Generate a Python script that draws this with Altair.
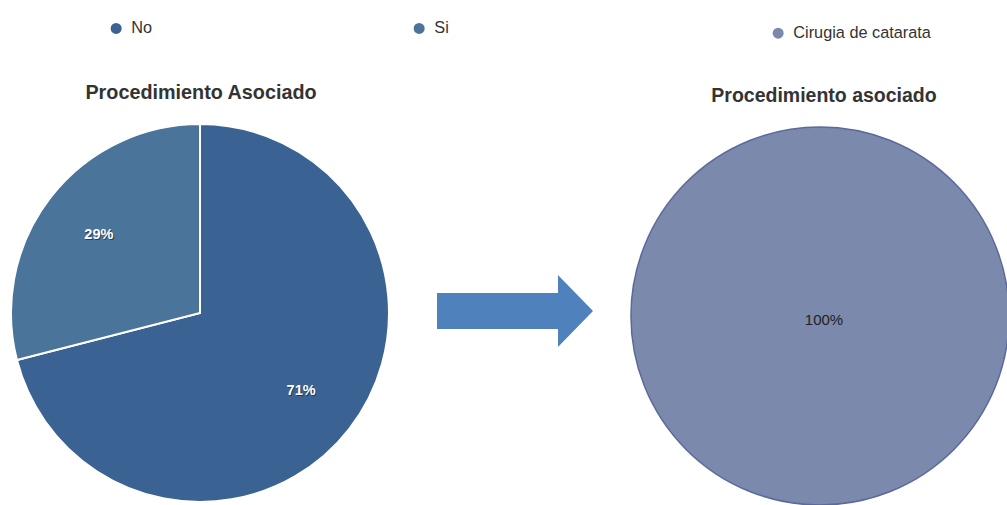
import altair as alt
import pandas as pd

# Left pie: Procedimiento Asociado
left_categories = ["No", "Si"]
left_values = [71, 29]
left_labels = ["71%", "29%"]
left_order = [1, 2]
left_colors = ["#3a6394", "#4a7499"]

# Right pie: Procedimiento asociado
right_categories = ["Cirugia de catarata"]
right_values = [100]
right_labels = ["100%"]
right_colors = ["#7b89ac"]

FONT = "Liberation Sans"

left_df = pd.DataFrame({"category": left_categories, "value": left_values,
                        "label": left_labels, "order": left_order})
right_df = pd.DataFrame({"category": right_categories, "value": right_values,
                         "label": right_labels, "order": [1]})

LCX, LCY, R = 200, 313, 189
RCX, RCY = 820, 316

left_base = alt.Chart(left_df).encode(
    theta=alt.Theta("value:Q", stack=True),
    order=alt.Order("order:Q"),
)
left_arc = left_base.mark_arc(radius=R, stroke="white", strokeWidth=2).encode(
    color=alt.Color(
        "category:N",
        scale=alt.Scale(domain=left_categories, range=left_colors),
        legend=alt.Legend(
            title=None, orient="none", direction="horizontal",
            legendX=108, legendY=20, symbolType="circle", symbolSize=121,
            symbolStrokeWidth=0, symbolOpacity=1, labelFont=FONT,
            labelFontSize=16.3, labelColor="#333333", labelOffset=7,
            columnPadding=258,
        ),
    ),
    x=alt.value(LCX), y=alt.value(LCY),
)
left_shadow = left_base.mark_text(
    radius=128, font=FONT, fontSize=14.5, fontWeight="bold",
    color="#000000", opacity=0.45, dx=1, dy=1,
).encode(text="label:N", detail="category:N", x=alt.value(LCX), y=alt.value(LCY))
left_text = left_base.mark_text(
    radius=128, font=FONT, fontSize=14.5, fontWeight="bold", color="white",
).encode(text="label:N", detail="category:N", x=alt.value(LCX), y=alt.value(LCY))

right_base = alt.Chart(right_df).encode(
    theta=alt.Theta("value:Q", stack=True),
    order=alt.Order("order:Q"),
)
right_arc = right_base.mark_arc(radius=R, stroke="#5b6a9a", strokeWidth=1.5).encode(
    color=alt.Color(
        "category:N",
        scale=alt.Scale(domain=right_categories, range=right_colors),
        legend=alt.Legend(
            title=None, orient="none", direction="horizontal",
            legendX=770, legendY=25, symbolType="circle", symbolSize=121,
            symbolStrokeWidth=0, symbolOpacity=1, labelFont=FONT,
            labelFontSize=16.3, labelColor="#333333", labelOffset=7,
        ),
    ),
    x=alt.value(RCX), y=alt.value(RCY),
)
right_text = alt.Chart(right_df).mark_text(
    font=FONT, fontSize=15, color="#222222",
).encode(text="label:N", x=alt.value(824), y=alt.value(320))

title_left = alt.Chart(pd.DataFrame({"t": ["Procedimiento Asociado"]})).mark_text(
    font=FONT, fontSize=19.8, fontWeight="bold", color="#333333",
).encode(text="t:N", x=alt.value(201), y=alt.value(93))
title_right = alt.Chart(pd.DataFrame({"t": ["Procedimiento asociado"]})).mark_text(
    font=FONT, fontSize=19.5, fontWeight="bold", color="#333333",
).encode(text="t:N", x=alt.value(824), y=alt.value(96))

arrow_path = ("M-1,-0.23 L0.551,-0.23 L0.551,-0.4615 L1,0 "
              "L0.551,0.4615 L0.551,0.23 L-1,0.23 Z")
arrow = alt.Chart(pd.DataFrame({"a": [1]})).mark_point(
    shape=arrow_path, filled=True, size=156 * 156, color="#4f81bd",
    opacity=1, strokeWidth=0,
).encode(x=alt.value(515), y=alt.value(311))

chart = alt.layer(
    left_arc, left_shadow, left_text, right_arc, right_text,
    title_left, title_right, arrow,
).resolve_scale(color="independent", theta="independent").properties(
    width=1007, height=505, padding=0, autosize=alt.AutoSizeParams(type="none"),
).configure_view(stroke=None)

chart.save("out.html", embed_options={"renderer": "svg", "actions": False})
